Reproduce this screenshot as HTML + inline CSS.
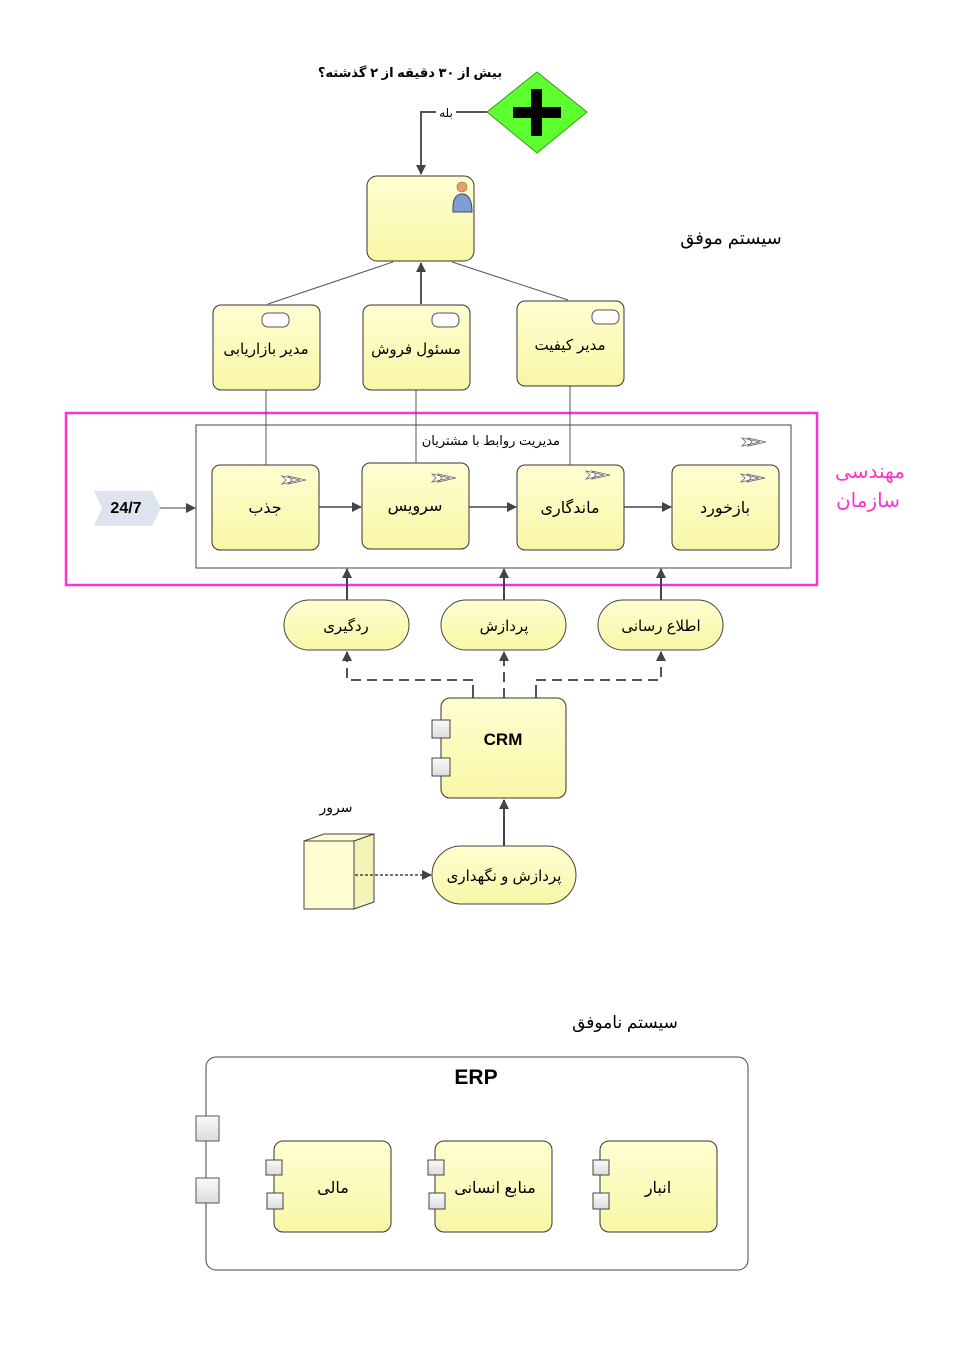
<!DOCTYPE html>
<html><head><meta charset="utf-8"><style>
html,body{margin:0;padding:0;background:#fff;}
svg{display:block;}
text{font-family:"Liberation Sans","DejaVu Sans",sans-serif;}
</style></head><body>
<svg width="969" height="1353" viewBox="0 0 969 1353" xmlns="http://www.w3.org/2000/svg">
<defs>
<linearGradient id="y" x1="0" y1="0" x2="0" y2="1"><stop offset="0" stop-color="#fffed2"/><stop offset="1" stop-color="#f8f7a6"/></linearGradient>
<linearGradient id="g" x1="0" y1="0" x2="0" y2="1"><stop offset="0" stop-color="#fafafa"/><stop offset="1" stop-color="#dcdcdc"/></linearGradient>
<marker id="a" markerWidth="10" markerHeight="10" refX="9" refY="5" orient="auto" markerUnits="userSpaceOnUse"><path d="M0,0 L10,5 L0,10 z" fill="#444"/></marker>
<g id="flow"><path d="M0,0 L18,4 L0,8 L4,4 z M6,0 L24,4 L6,8 L10,4 z" fill="#fff" stroke="#666" stroke-width="0.8"/></g>
<g id="cyl"><rect x="0" y="0" width="27" height="14" rx="6" fill="#fff" stroke="#555"/></g>
</defs>

<text x="410" y="77" font-size="13" font-weight="bold" text-anchor="middle">بیش از ۳۰ دقیقه از ۲ گذشته؟</text>
<polygon points="537,72 587,112 537,153 487,112" fill="#5dff2e" stroke="#3a9a1a"/>
<rect x="513" y="107" width="48" height="11" fill="#000"/><rect x="531" y="89" width="11" height="47" fill="#000"/>
<polyline points="487,112 421,112 421,174" fill="none" stroke="#555" stroke-width="2" marker-end="url(#a)"/>
<rect x="436" y="104" width="20" height="16" fill="#fff"/>
<text x="446" y="117" font-size="12" text-anchor="middle">بله</text>

<rect x="367" y="176" width="107" height="85" rx="10" fill="url(#y)" stroke="#333"/>
<circle cx="462" cy="187" r="5" fill="#e8a070" stroke="#a06030" stroke-width="0.6"/>
<path d="M453,212 Q452,194 462,194 Q472,194 472,212 z" fill="#7f9ed6" stroke="#446"/>

<line x1="393" y1="262" x2="268" y2="304" stroke="#555"/>
<line x1="452" y1="262" x2="568" y2="300" stroke="#555"/>
<line x1="421" y1="304" x2="421" y2="263" stroke="#555" stroke-width="2" marker-end="url(#a)"/>

<rect x="213" y="305" width="107" height="85" rx="8" fill="url(#y)" stroke="#333"/>
<use href="#cyl" x="262" y="313"/>
<text x="266" y="354" font-size="15" text-anchor="middle">مدیر بازاریابی</text>
<rect x="363" y="305" width="107" height="85" rx="8" fill="url(#y)" stroke="#333"/>
<use href="#cyl" x="432" y="313"/>
<text x="416" y="354" font-size="15" text-anchor="middle">مسئول فروش</text>
<rect x="517" y="301" width="107" height="85" rx="8" fill="url(#y)" stroke="#333"/>
<use href="#cyl" x="592" y="310"/>
<text x="570" y="350" font-size="15" text-anchor="middle">مدیر کیفیت</text>

<text x="731" y="244" font-size="18" text-anchor="middle">سیستم موفق</text>

<rect x="66" y="413" width="751" height="172" fill="#fff" stroke="#ff33cc" stroke-width="2.5"/>
<text x="870" y="478" font-size="20" fill="#ff33cc" text-anchor="middle">مهندسی</text>
<text x="868" y="507" font-size="20" fill="#ff33cc" text-anchor="middle">سازمان</text>
<rect x="196" y="425" width="595" height="143" fill="#fff" stroke="#444"/>
<text x="560" y="445" font-size="13" text-anchor="end">مدیریت روابط با مشتریان</text>
<use href="#flow" x="742" y="438"/>

<line x1="266" y1="390" x2="266" y2="465" stroke="#555"/>
<line x1="416" y1="390" x2="416" y2="463" stroke="#555"/>
<line x1="570" y1="386" x2="570" y2="465" stroke="#555"/>

<polygon points="94,491 152,491 161,508 152,526 94,526 102,508" fill="#dde3ef"/>
<text x="126" y="513" font-size="16" font-weight="bold" text-anchor="middle">24/7</text>
<line x1="160" y1="508" x2="195" y2="508" stroke="#444" marker-end="url(#a)"/>

<rect x="212" y="465" width="107" height="85" rx="8" fill="url(#y)" stroke="#333"/>
<use href="#flow" x="282" y="476"/>
<text x="265" y="513" font-size="16" text-anchor="middle">جذب</text>
<rect x="362" y="463" width="107" height="86" rx="8" fill="url(#y)" stroke="#333"/>
<use href="#flow" x="432" y="474"/>
<text x="415" y="511" font-size="16" text-anchor="middle">سرویس</text>
<rect x="517" y="465" width="107" height="85" rx="8" fill="url(#y)" stroke="#333"/>
<use href="#flow" x="586" y="471"/>
<text x="570" y="513" font-size="16" text-anchor="middle">ماندگاری</text>
<rect x="672" y="465" width="107" height="85" rx="8" fill="url(#y)" stroke="#333"/>
<use href="#flow" x="741" y="474"/>
<text x="725" y="513" font-size="16" text-anchor="middle">بازخورد</text>
<line x1="319" y1="507" x2="361" y2="507" stroke="#444" stroke-width="1.5" marker-end="url(#a)"/>
<line x1="469" y1="507" x2="516" y2="507" stroke="#444" stroke-width="1.5" marker-end="url(#a)"/>
<line x1="624" y1="507" x2="671" y2="507" stroke="#444" stroke-width="1.5" marker-end="url(#a)"/>

<g stroke="#444" stroke-width="2">
<line x1="347" y1="600" x2="347" y2="569" marker-end="url(#a)"/>
<line x1="504" y1="600" x2="504" y2="569" marker-end="url(#a)"/>
<line x1="661" y1="600" x2="661" y2="569" marker-end="url(#a)"/>
</g>
<rect x="284" y="600" width="125" height="50" rx="25" fill="url(#y)" stroke="#444"/>
<text x="346" y="631" font-size="15" text-anchor="middle">ردگیری</text>
<rect x="441" y="600" width="125" height="50" rx="25" fill="url(#y)" stroke="#444"/>
<text x="504" y="631" font-size="15" text-anchor="middle">پردازش</text>
<rect x="598" y="600" width="125" height="50" rx="25" fill="url(#y)" stroke="#444"/>
<text x="661" y="631" font-size="15" text-anchor="middle">اطلاع رسانی</text>

<g stroke="#555" stroke-width="2" fill="none">
<line x1="473" y1="698" x2="473" y2="685"/>
<line x1="536" y1="698" x2="536" y2="685"/>
<polyline points="473,680 347,680 347,652" stroke-dasharray="10,6" marker-end="url(#a)"/>
<polyline points="536,680 661,680 661,652" stroke-dasharray="10,6" marker-end="url(#a)"/>
<line x1="504" y1="698" x2="504" y2="652" stroke-dasharray="10,6" marker-end="url(#a)"/>
</g>

<rect x="441" y="698" width="125" height="100" rx="9" fill="url(#y)" stroke="#333"/>
<rect x="432" y="720" width="18" height="18" fill="url(#g)" stroke="#444"/>
<rect x="432" y="758" width="18" height="18" fill="url(#g)" stroke="#444"/>
<text x="503" y="745" font-size="17" font-weight="bold" text-anchor="middle">CRM</text>
<line x1="504" y1="846" x2="504" y2="800" stroke="#444" stroke-width="2" marker-end="url(#a)"/>
<rect x="432" y="846" width="144" height="58" rx="29" fill="url(#y)" stroke="#444"/>
<text x="504" y="881" font-size="15" text-anchor="middle">پردازش و نگهداری</text>

<text x="336" y="812" font-size="14" text-anchor="middle">سرور</text>
<polygon points="304,841 324,834 374,834 354,841" fill="#fffed2" stroke="#444"/>
<polygon points="354,841 374,834 374,902 354,909" fill="#f4f3b8" stroke="#444"/>
<rect x="304" y="841" width="50" height="68" fill="#fffed2" stroke="#444"/>
<line x1="355" y1="875" x2="431" y2="875" stroke="#444" stroke-width="1.5" stroke-dasharray="3,2" marker-end="url(#a)"/>

<text x="625" y="1028" font-size="17" text-anchor="middle">سیستم ناموفق</text>

<rect x="206" y="1057" width="542" height="213" rx="10" fill="#fff" stroke="#444"/>
<text x="476" y="1084" font-size="21" font-weight="bold" text-anchor="middle">ERP</text>
<rect x="196" y="1116" width="23" height="25" fill="url(#g)" stroke="#555"/>
<rect x="196" y="1178" width="23" height="25" fill="url(#g)" stroke="#555"/>

<rect x="274" y="1141" width="117" height="91" rx="9" fill="url(#y)" stroke="#333"/>
<rect x="266" y="1160" width="16" height="15" fill="url(#g)" stroke="#444"/>
<rect x="267" y="1193" width="16" height="16" fill="url(#g)" stroke="#444"/>
<text x="333" y="1193" font-size="16" text-anchor="middle">مالی</text>
<rect x="435" y="1141" width="117" height="91" rx="9" fill="url(#y)" stroke="#333"/>
<rect x="428" y="1160" width="16" height="15" fill="url(#g)" stroke="#444"/>
<rect x="429" y="1193" width="16" height="16" fill="url(#g)" stroke="#444"/>
<text x="495" y="1193" font-size="16" text-anchor="middle">منابع انسانی</text>
<rect x="600" y="1141" width="117" height="91" rx="9" fill="url(#y)" stroke="#333"/>
<rect x="593" y="1160" width="16" height="15" fill="url(#g)" stroke="#444"/>
<rect x="593" y="1193" width="16" height="16" fill="url(#g)" stroke="#444"/>
<text x="658" y="1193" font-size="16" text-anchor="middle">انبار</text>
</svg>
</body></html>
